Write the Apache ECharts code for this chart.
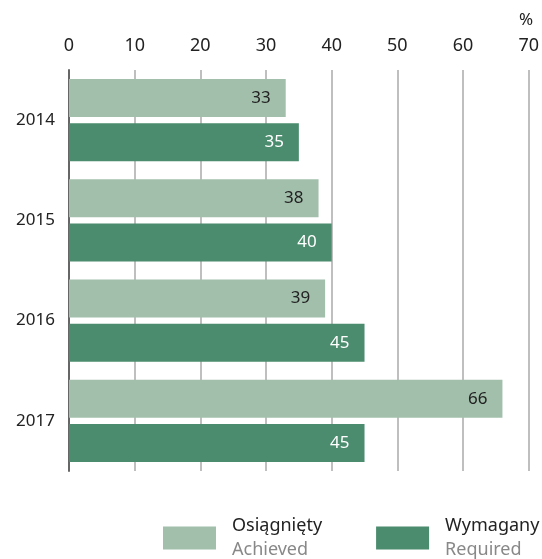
<!DOCTYPE html>
<html>
<head>
<meta charset="utf-8">
<script src="https://cdn.jsdelivr.net/npm/echarts@6/dist/echarts.min.js"></script>
<style>
  html, body { margin: 0; padding: 0; background: #fff; }
  #chart { width: 542px; height: 559px; }
</style>
</head>
<body>
<div id="chart"></div>
<script>
// dane z wykresu
var years = ['2014', '2015', '2016', '2017'];
var achieved = [33, 38, 39, 66];
var required = [35, 40, 45, 45];
var xTicks = [0, 10, 20, 30, 40, 50, 60, 70];
var names = { 'Osiągnięty': 'Achieved', 'Wymagany': 'Required' };

var font = 'Noto Sans';
var chart = echarts.init(document.getElementById('chart'));

chart.setOption({
  animation: false,
  textStyle: { fontFamily: font },
  title: {
    text: '%',
    left: 514,
    top: 7,
    textStyle: { fontFamily: font, fontSize: 17, fontWeight: 'normal', color: '#222' }
  },
  grid: { left: 69, right: 11, top: 70, bottom: 88 },
  legend: {
    top: 517,
    left: 163,
    padding: 0,
    itemWidth: 53,
    itemHeight: 23,
    itemGap: 54,
    icon: 'rect',
    data: ['Osiągnięty', 'Wymagany'],
    formatter: function (n) {
      return '{a|' + n + '}\n{b|' + names[n] + '}';
    },
    textStyle: {
      padding: [0, 0, 0, 11],
      rich: {
        a: { fontFamily: font, fontSize: 18, color: '#222', lineHeight: 24 },
        b: { fontFamily: font, fontSize: 18, color: '#888', lineHeight: 24 }
      }
    }
  },
  xAxis: {
    type: 'value',
    position: 'top',
    min: xTicks[0],
    max: xTicks[xTicks.length - 1],
    interval: 10,
    axisLine: { show: false },
    axisTick: { show: false },
    axisLabel: { fontSize: 18, color: '#222', margin: 15 },
    splitLine: { lineStyle: { color: '#aaa', width: 1.5 } }
  },
  yAxis: {
    type: 'category',
    inverse: true,
    data: years,
    axisLine: { show: true, lineStyle: { color: '#666', width: 2 } },
    axisTick: { show: false },
    axisLabel: { fontSize: 17, color: '#222', margin: 14 }
  },
  series: [
    {
      name: 'Osiągnięty',
      type: 'bar',
      data: achieved,
      barWidth: 38,
      barGap: '16%',
      itemStyle: { color: '#a2bfab' },
      label: { show: true, position: 'insideRight', fontSize: 17, color: '#222', distance: 15 }
    },
    {
      name: 'Wymagany',
      type: 'bar',
      data: required,
      barWidth: 38,
      itemStyle: { color: '#4a8c6d' },
      label: { show: true, position: 'insideRight', fontSize: 17, color: '#fff', distance: 15 }
    }
  ]
});
</script>
</body>
</html>
